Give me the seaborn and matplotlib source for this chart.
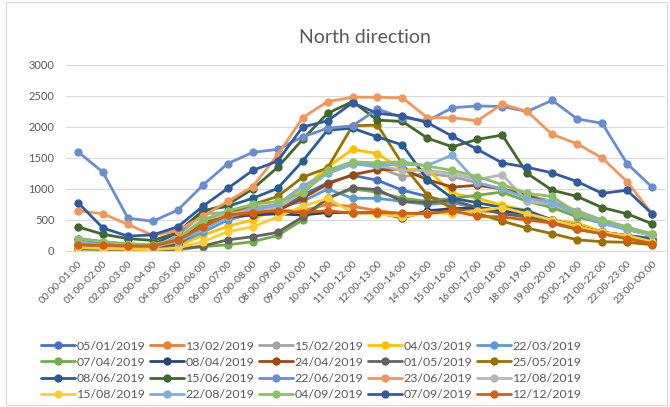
import matplotlib
matplotlib.use("Agg")
import matplotlib.pyplot as plt
from matplotlib.patches import Rectangle
import seaborn as sns

# hour slots on the x axis
hours = ["%02d:00-%02d:00" % (h, (h + 1) % 24) for h in range(24)]

dates = ["05/01/2019", "13/02/2019", "15/02/2019", "04/03/2019", "22/03/2019",
         "07/04/2019", "08/04/2019", "24/04/2019", "01/05/2019", "25/05/2019",
         "08/06/2019", "15/06/2019", "22/06/2019", "23/06/2019", "12/08/2019",
         "15/08/2019", "22/08/2019", "04/09/2019", "07/09/2019", "12/12/2019"]

# excel office palette (plus shades)
colors = ["#4472C4", "#ED7D31", "#A5A5A5", "#FFC000", "#5B9BD5",
          "#70AD47", "#264478", "#9E480E", "#636363", "#997300",
          "#255E91", "#43682B", "#698ED0", "#F1975A", "#B7B7B7",
          "#FFCD33", "#7CAFDD", "#8CC168", "#335AA1", "#D26012"]

# vehicle counts per hour
d0501 = [100, 60, 40, 40, 100, 400, 550, 600, 650, 900, 1100, 1220, 1140, 980, 880, 780, 700, 650, 600, 500, 400, 300, 220, 150]
d1302 = [100, 80, 60, 60, 200, 450, 600, 650, 650, 650, 750, 720, 650, 600, 620, 700, 650, 620, 550, 450, 350, 280, 200, 130]
d1502 = [100, 60, 40, 30, 250, 600, 620, 700, 750, 1000, 1300, 1420, 1350, 1200, 1250, 1200, 1100, 1000, 900, 800, 650, 500, 380, 280]
d0403 = [50, 30, 20, 20, 80, 250, 400, 500, 700, 1000, 1350, 1640, 1570, 1310, 1320, 930, 850, 740, 650, 500, 450, 310, 250, 150]
d2203 = [200, 120, 80, 60, 120, 300, 500, 600, 700, 800, 1000, 850, 850, 800, 750, 780, 700, 650, 600, 500, 400, 300, 250, 200]
d0704 = [30, 20, 15, 10, 20, 70, 100, 150, 250, 500, 850, 1000, 950, 850, 800, 850, 900, 950, 800, 700, 550, 450, 350, 250]
d0804 = [70, 50, 30, 30, 100, 400, 550, 580, 600, 580, 620, 620, 620, 530, 650, 680, 700, 650, 600, 500, 400, 300, 250, 180]
d2404 = [100, 70, 50, 40, 150, 450, 550, 600, 650, 850, 1080, 1230, 1310, 1320, 1150, 1030, 1060, 1000, 900, 750, 600, 450, 350, 250]
d0105 = [50, 30, 20, 10, 30, 80, 180, 230, 300, 550, 850, 1020, 990, 800, 780, 820, 700, 600, 550, 450, 350, 280, 200, 150]
d2505 = [60, 40, 30, 20, 80, 450, 600, 750, 880, 1190, 1340, 2020, 2030, 1400, 900, 690, 610, 480, 370, 280, 180, 150, 140, 100]
d0806 = [200, 150, 100, 100, 300, 650, 720, 850, 1010, 1450, 1950, 1980, 1840, 1710, 1150, 850, 780, 700, 650, 500, 400, 300, 250, 200]
d1506 = [390, 270, 200, 170, 300, 640, 750, 1000, 1350, 1800, 2220, 2410, 2110, 2090, 1820, 1680, 1800, 1870, 1250, 980, 880, 700, 600, 440]
d2206 = [1600, 1270, 530, 480, 660, 1060, 1410, 1590, 1640, 1840, 1980, 2020, 2290, 2150, 2100, 2310, 2340, 2330, 2250, 2430, 2130, 2060, 1410, 1030]
d2306 = [650, 600, 430, 250, 330, 560, 800, 1040, 1550, 2150, 2410, 2480, 2480, 2470, 2150, 2150, 2100, 2370, 2250, 1880, 1730, 1500, 1120, 600]
d1208 = [120, 80, 50, 40, 200, 500, 600, 650, 700, 950, 1250, 1400, 1380, 1300, 1300, 1250, 1150, 1230, 800, 750, 600, 450, 350, 250]
d1508 = [60, 40, 30, 20, 50, 150, 310, 390, 550, 720, 850, 620, 600, 550, 620, 600, 650, 700, 600, 500, 400, 300, 250, 150]
d2208 = [150, 100, 80, 70, 150, 350, 550, 650, 750, 1050, 1250, 1400, 1380, 1400, 1380, 1550, 1100, 1000, 850, 780, 600, 450, 350, 280]
d0409 = [200, 150, 120, 100, 200, 500, 650, 750, 800, 930, 1300, 1440, 1420, 1440, 1370, 1300, 1200, 1070, 930, 880, 610, 500, 390, 270]
d0709 = [780, 370, 240, 260, 390, 720, 1010, 1300, 1450, 2000, 2100, 2390, 2220, 2180, 2070, 1850, 1640, 1420, 1350, 1260, 1120, 930, 980, 600]
d1212 = [100, 90, 80, 80, 180, 390, 580, 620, 650, 620, 650, 610, 620, 610, 600, 650, 560, 550, 500, 450, 350, 280, 200, 120]

series = [d0501, d1302, d1502, d0403, d2203, d0704, d0804, d2404, d0105, d2505,
          d0806, d1506, d2206, d2306, d1208, d1508, d2208, d0409, d0709, d1212]

sns.set_style("white")
plt.rcParams["font.family"] = ["Lato", "DejaVu Sans"]

fig = plt.figure(figsize=(6.7, 4.07), dpi=100)
ax = fig.add_axes([0.0978, 0.3833, 0.894, 0.457])

for vals, name, c in zip(series, dates, colors):
    sns.lineplot(x=hours, y=vals, color=c, marker="o", markersize=6,
                 markeredgewidth=0, linewidth=2, label=name, ax=ax, sort=False)

ax.set_xlim(-0.5, 23.5)
ax.set_ylim(0, 3000)
ax.set_yticks(range(0, 3001, 500))
ax.grid(axis="y", color="#D9D9D9", linewidth=0.8)
ax.set_axisbelow(True)
for s in ["top", "right", "left"]:
    ax.spines[s].set_visible(False)
ax.spines["bottom"].set_color("#D9D9D9")

ax.set_xticks(range(24))
ax.set_xticklabels(hours, rotation=45, ha="right", rotation_mode="anchor")
ax.set_xticks([i - 0.5 for i in range(25)], minor=True)
ax.tick_params(axis="x", which="major", length=0, pad=6, labelsize=7.5, labelcolor="#595959")
ax.tick_params(axis="x", which="minor", length=4, color="#D9D9D9")
ax.tick_params(axis="y", length=0, labelsize=8, labelcolor="#595959", pad=8)
ax.set_xlabel("")
ax.set_ylabel("")

ax.set_title("North direction", fontsize=14, color="#595959", pad=16)

# legend reads row by row (5 per row), matplotlib fills column by column
handles, labels = ax.get_legend_handles_labels()
order = [r * 5 + c for c in range(5) for r in range(4)]
ax.legend([handles[i] for i in order], [labels[i] for i in order],
          loc="upper center", bbox_to_anchor=(0.41, -0.455), ncol=5, frameon=False,
          fontsize=8.9, labelcolor="#595959", handlelength=2.8, handletextpad=0.1,
          columnspacing=0.35, labelspacing=0.42, borderaxespad=0)

fig.add_artist(Rectangle((0.009, 0.005), 0.987, 0.99, transform=fig.transFigure,
                         fill=False, edgecolor="#D9D9D9", linewidth=0.8))

fig.savefig("out.png", dpi=100)
